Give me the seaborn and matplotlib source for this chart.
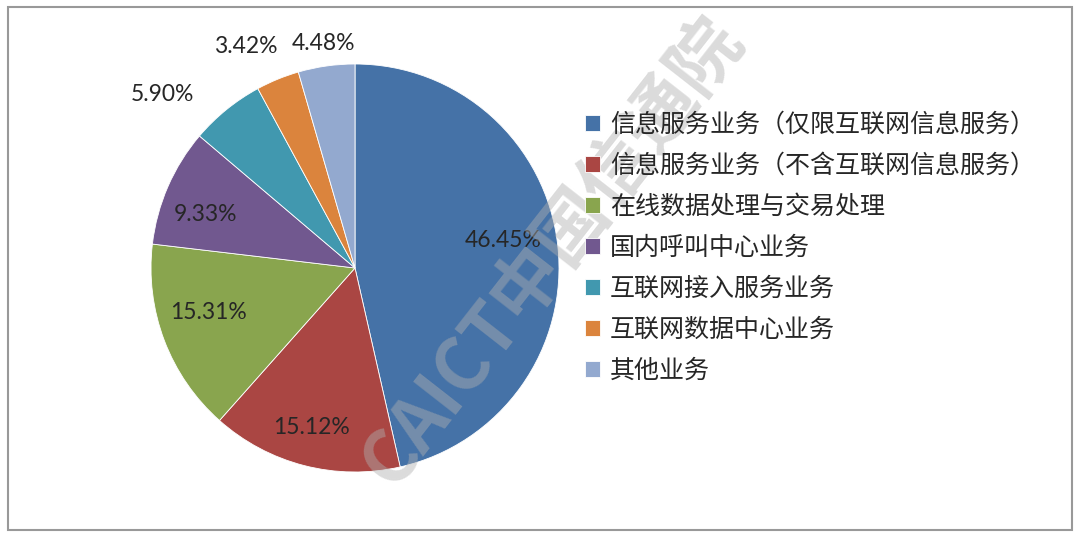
import matplotlib
matplotlib.use("Agg")
import matplotlib.pyplot as plt
import numpy as np
import seaborn as sns
from matplotlib.patches import Rectangle

categories = [
    "信息服务业务（仅限互联网信息服务）",
    "信息服务业务（不含互联网信息服务）",
    "在线数据处理与交易处理",
    "国内呼叫中心业务",
    "互联网接入服务业务",
    "互联网数据中心业务",
    "其他业务",
]
shares = [46.45, 15.12, 15.31, 9.33, 5.90, 3.42, 4.48]
colors = ["#4572A7", "#AA4643", "#89A54E", "#71588F", "#4198AF", "#DB843D", "#93A9CF"]

# label distance from centre (fraction of radius) and small angle nudges, per slice
label_r = [0.74, 0.81, 0.75, 0.78, 1.27, 1.21, 1.11]
label_da = [4, -1, -4, 4, 9, 4, 0]

sns.set_theme(style="white")
plt.rcParams["font.family"] = ["Noto Sans CJK SC", "DejaVu Sans"]

fig = plt.figure(figsize=(10.8, 5.38), dpi=100)
W, H = 1080, 538
cx, cy, R = 355, 268, 204
ax = fig.add_axes([(cx - R) / W, (H - cy - R) / H, 2 * R / W, 2 * R / H])

wedges, _ = ax.pie(shares, colors=sns.color_palette(colors), startangle=90,
                   counterclock=False, radius=1,
                   wedgeprops=dict(edgecolor="white", linewidth=0.6))
ax.set_xlim(-1, 1)
ax.set_ylim(-1, 1)
ax.set_aspect("equal")
ax.axis("off")

for w, val, r, da in zip(wedges, shares, label_r, label_da):
    ang = np.deg2rad((w.theta1 + w.theta2) / 2 + da)
    ax.text(r * np.cos(ang), r * np.sin(ang), f"{val:.2f}%", ha="center", va="center",
            fontsize=16.5, color="#262626", family=["Lato", "DejaVu Sans"])

fig.legend(wedges, categories, loc="upper left", bbox_to_anchor=(575 / W, 1 - 102 / H),
           frameon=False, fontsize=18, handlelength=0.6, handleheight=0.6,
           handletextpad=0.4, labelspacing=0.6, borderaxespad=0)

# watermark
fig.text(552 / W, 1 - 252 / H, "CAICT中国信通院", rotation=52, ha="center", va="center",
         fontsize=52, fontweight="bold", color="#b0b0b0", alpha=0.45)

fig.patches.append(Rectangle((8 / W, 8 / H), 1064 / W, 523 / H, transform=fig.transFigure,
                             fill=False, edgecolor="#999999", linewidth=1.5))

fig.savefig("out.png", dpi=100, facecolor="white")
